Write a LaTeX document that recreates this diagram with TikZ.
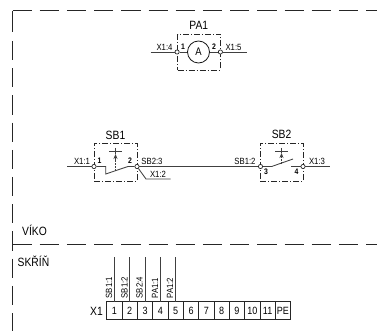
\documentclass[tikz,border=0pt]{standalone}
\usepackage{fontspec}
\setmainfont[FakeStretch=0.86]{Liberation Sans}
\usetikzlibrary{arrows.meta,positioning}

\begin{document}
\begin{tikzpicture}[
    x=1pt, y=-1pt,
    wire/.style={draw=black!75, line width=0.85pt},
    frameline/.style={draw=black!85, line width=1pt, dash pattern=on 19.2pt off 8pt},
    devicebox/.style={draw=black!85, line width=0.8pt, dash pattern=on 6pt off 2pt on 1pt off 2pt, minimum height=38pt, minimum width=43pt, inner sep=0pt},
    terminal/.style={circle, draw=black!85, fill=white, line width=0.7pt, minimum size=4.2pt, inner sep=0pt},
    meter/.style={circle, draw=black!90, fill=white, line width=0.8pt, minimum size=22pt, inner sep=0pt, font=\fontsize{11}{11}\selectfont},
    pin/.style={font=\fontsize{8}{8}\selectfont\bfseries, inner sep=0pt},
    ref/.style={font=\fontsize{9}{9}\selectfont, inner sep=0pt},
    title/.style={font=\fontsize{12}{12}\selectfont, inner sep=0pt},
    cell/.style={draw=black!85, line width=0.8pt, minimum width=15.33pt, minimum height=17.5pt, inner sep=0pt, outer sep=0pt, font=\fontsize{10.5}{10.5}\selectfont},
    pushrod/.style={wire, dash pattern=on 2pt off 1pt},
    pushtip/.style={wire, -{Stealth[length=5pt, width=4pt]}}
]
\useasboundingbox (0,0) rectangle (377,331);

% Frame of the lid and the cabinet
\coordinate (corner) at (12.5,11);
\coordinate (topend) at (377,11);
\coordinate (cornerlow) at (12.5,32.5);
\coordinate (leftstart) at (12.5,41);
\coordinate (leftend) at (12.5,331);
\coordinate (splitleft) at (12.5,244.5);
\coordinate (splitright) at (377,244.5);
\draw[frameline] (corner) -- (topend);
\draw[draw=black!85, line width=1pt] (corner) -- (cornerlow);
\draw[frameline] (leftstart) -- (leftend);
\draw[frameline] (splitleft) -- (splitright);
\node[title, anchor=west] (viko) at (22,230.5) {VÍKO};
\node[title, anchor=west] (skrin) at (17.5,261) {SKŘÍŇ};

% Ammeter PA1
\node[devicebox, minimum height=36pt, minimum width=42.5pt] (pa1box) at (198.75,52) {};
\node[title, above=3.5pt of pa1box] (pa1title) {PA1};
\coordinate (pa1left) at (150.5,52);
\coordinate (pa1right) at (247,52);
\node[meter] (pa1) at (198.5,52) {A};
\node[terminal] (pa1a) at (pa1box.west) {};
\node[terminal] (pa1b) at (pa1box.east) {};
\draw[wire] (pa1left) -- (pa1a);
\draw[wire] (pa1a) -- (pa1);
\draw[wire] (pa1) -- (pa1b);
\draw[wire] (pa1b) -- (pa1right);
\node[ref] (pa1refa) at (164.5,47.5) {X1:4};
\node[pin] (pa1pina) at (183,46.5) {1};
\node[pin] (pa1pinb) at (214,46.5) {2};
\node[ref] (pa1refb) at (233.5,47.5) {X1:5};

% Push button SB1
\node[devicebox] (sb1box) at (115.5,162) {};
\node[title, above=2.5pt of sb1box] (sb1title) {SB1};
\coordinate (sb1left) at (67,166.5);
\node[terminal] (sb1a) at (94,166.5) {};
\node[terminal] (sb1b) at (137,166.5) {};
\coordinate (sb1elbow) at (105.7,166.5);
\coordinate (sb1heel) at (105.7,174);
\coordinate (sb1lever) at (128,166.5);
\coordinate (sb1drop) at (146,179);
\coordinate (sb1branch) at (170.5,179);
\draw[wire] (sb1left) -- (sb1a);
\draw[wire] (sb1a) -- (sb1elbow) -- (sb1heel) -- (sb1lever) -- (sb1b);
\draw[wire] (sb1b) -- (sb1drop) -- (sb1branch);
\coordinate (sb1capl) at (109,151);
\coordinate (sb1capm) at (115.5,148);
\coordinate (sb1capr) at (122,151);
\coordinate (sb1rod) at (115.5,160);
\coordinate (sb1tip) at (115.5,154);
\coordinate (sb1foot) at (115.5,171);
\draw[wire] (sb1capl) |- (sb1capr);
\draw[wire] (sb1capm) -- (sb1tip);
\draw[pushtip] (sb1rod) -- (sb1tip);
\draw[pushrod] (sb1foot) -- (sb1rod);
\node[ref] (sb1refa) at (82,161) {X1:1};
\node[pin] (sb1pina) at (99.5,161) {1};
\node[pin] (sb1pinb) at (130,161) {2};
\node[ref] (sb1refb) at (152,161) {SB2:3};
\node[ref] (sb1refc) at (158,174.5) {X1:2};

% Push button SB2
\node[devicebox] (sb2box) at (281.5,162) {};
\node[title, above=3.5pt of sb2box] (sb2title) {SB2};
\node[terminal] (sb2a) at (260.5,166.5) {};
\node[terminal] (sb2b) at (303,166.5) {};
\coordinate (sb2right) at (330,166.5);
\coordinate (sb2hinge) at (271.7,166.5);
\coordinate (sb2lever) at (293,159);
\coordinate (sb2fixed) at (291,166.5);
\draw[wire] (sb1b) -- (sb2a);
\draw[wire] (sb2a) -- (sb2hinge) -- (sb2lever);
\draw[wire] (sb2fixed) -- (sb2b);
\draw[wire] (sb2b) -- (sb2right);
\coordinate (sb2capl) at (275,151);
\coordinate (sb2capm) at (281.5,148);
\coordinate (sb2capr) at (288,151);
\coordinate (sb2rod) at (281.5,158.5);
\coordinate (sb2tip) at (281.5,153);
\coordinate (sb2foot) at (281.5,164);
\draw[wire] (sb2capl) |- (sb2capr);
\draw[wire] (sb2capm) -- (sb2tip);
\draw[pushtip] (sb2rod) -- (sb2tip);
\draw[pushrod] (sb2foot) -- (sb2rod);
\node[ref] (sb2refa) at (245,161) {SB1:2};
\node[pin] (sb2pina) at (266,172) {3};
\node[pin] (sb2pinb) at (296.5,172) {4};
\node[ref] (sb2refb) at (317,161) {X1:3};

% Terminal strip X1
\node[title, anchor=east] (x1) at (103,311) {X1};
\node[cell, anchor=north west] (c1) at (106.7,301.7) {1};
\node[cell, right=0pt of c1] (c2) {2};
\node[cell, right=0pt of c2] (c3) {3};
\node[cell, right=0pt of c3] (c4) {4};
\node[cell, right=0pt of c4] (c5) {5};
\node[cell, right=0pt of c5] (c6) {6};
\node[cell, right=0pt of c6] (c7) {7};
\node[cell, right=0pt of c7] (c8) {8};
\node[cell, right=0pt of c8] (c9) {9};
\node[cell, right=0pt of c9] (c10) {10};
\node[cell, right=0pt of c10] (c11) {11};
\node[cell, right=0pt of c11] (c12) {PE};

% Wires leaving the strip
\coordinate (w1) at (c1.north |- 0,257);
\coordinate (w2) at (c2.north |- 0,257);
\coordinate (w3) at (c3.north |- 0,257);
\coordinate (w4) at (c4.north |- 0,257);
\coordinate (w5) at (c5.north |- 0,257);
\draw[wire] (c1.north) -- (w1);
\draw[wire] (c2.north) -- (w2);
\draw[wire] (c3.north) -- (w3);
\draw[wire] (c4.north) -- (w4);
\draw[wire] (c5.north) -- (w5);
\node[ref, rotate=90, anchor=west] (w1ref) at (109,298.5) {SB1:1};
\node[ref, rotate=90, anchor=west] (w2ref) at (124.5,298.5) {SB1:2};
\node[ref, rotate=90, anchor=west] (w3ref) at (139.5,298.5) {SB2:4};
\node[ref, rotate=90, anchor=west] (w4ref) at (155,298.5) {PA1:1};
\node[ref, rotate=90, anchor=west] (w5ref) at (170,298.5) {PA1:2};
\end{tikzpicture}
\end{document}
